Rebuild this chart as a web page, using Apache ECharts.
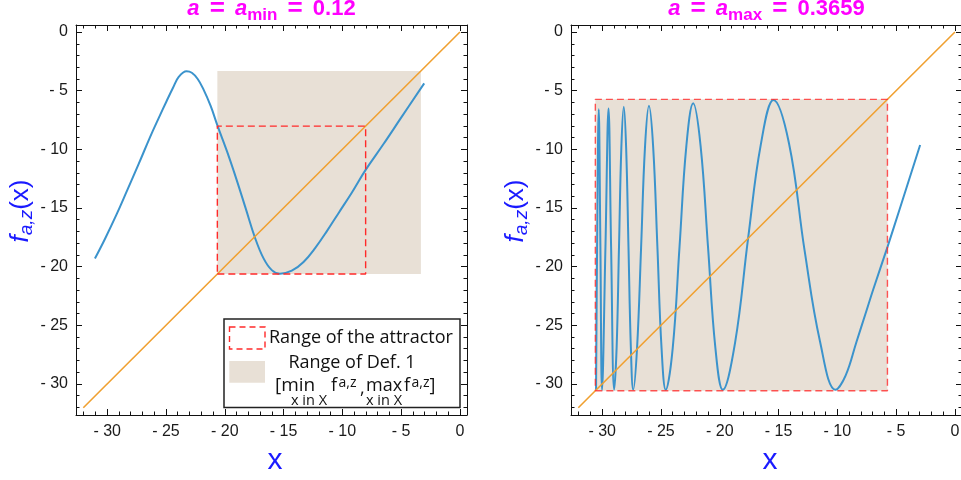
<!DOCTYPE html>
<html>
<head>
<meta charset="utf-8">
<script src="https://cdn.jsdelivr.net/npm/echarts@6/dist/echarts.min.js"></script>
<style>
  html, body { margin: 0; background: #fff; }
  #chart { width: 961px; height: 480px; }
</style>
</head>
<body>
<div id="chart"></div>
<script>
// values
const leftX = [-31.04, -30.19, -29.2, -28.3, -27.3, -26.37, -25.6, -24.95, -24.4, -23.9, -23.25, -22.8,
  -22.3, -21.83, -21.2, -20.61, -19.8, -18.99, -18.2, -17.44, -16.7, -16.0, -15.31, -14.3, -13.3,
  -12.3, -11.3, -10.3, -9.2, -8.02, -6.5, -5.0, -3.04];
const leftY = [-19.31, -17.64, -15.55, -13.5, -11.2, -9.0, -7.3, -5.9, -4.75, -3.8, -3.34, -3.47,
  -4.0, -4.85, -6.3, -8.0, -10.2, -12.6, -15.1, -17.5, -19.3, -20.3, -20.61, -20.35, -19.6,
  -18.4, -16.95, -15.4, -13.7, -11.75, -9.55, -7.3, -4.38];

const rightX = [-30.52, -30.43, -30.29, -30.15, -30.01, -29.72, -29.46, -29.24, -28.98, -28.77, -28.57,
  -28.37, -28.16, -27.96, -27.76, -27.56, -27.36, -27.03, -26.69, -26.36, -26.02, -25.66, -25.3, -24.95,
  -24.59, -24.0, -23.42, -22.84, -22.26, -21.63, -21.0, -20.37, -19.74, -18.7, -17.59, -16.51, -15.43,
  -14.11, -12.79, -11.47, -10.15, -9.3, -8.37, -7.6, -6.95, -5.72, -4.67, -2.96];
const rightY = [-30.5, -18.3, -6.59, -18.3, -30.5, -18.3, -6.51, -18.3, -30.5, -26.9, -18.4,
  -9.9, -6.37, -9.9, -18.4, -26.9, -30.5, -26.9, -18.4, -9.85, -6.29, -9.85, -18.4, -26.95,
  -30.5, -26.95, -18.3, -9.7, -6.08, -9.7, -18.3, -26.95, -30.5, -26.5, -17.6, -9.6, -5.8,
  -9.5, -18.6, -26.4, -30.5, -29.3, -26.4, -24.0, -21.95, -18.27, -15.0, -9.63];

const diagonal = [-32.03, 0];
const attractorLeft = [-20.63, -8.02];
const def1Left = [-20.63, -3.32];
const attractorRight = [-30.58, -5.74];
const def1Right = [-30.58, -5.74];

const majorTicks = [-30, -25, -20, -15, -10, -5, 0];
const minorTicks = Array.from({ length: 33 }, (_, i) => -32 + i);
const AX_MIN = -32.65, AX_MAX = 0.6;

const BLUE = '#3b93cc', ORANGE = '#f0a030', BEIGE = '#e8e0d6', RED = '#ff2a2a';
const FONT = 'Liberation Sans';

const fmt = v => (v === 0 ? '0' : '- ' + Math.abs(v));
const pairs = (xs, ys) => xs.map((x, i) => [x, ys[i]]);
const box = r => [[r[0], r[0]], [r[1], r[0]], [r[1], r[1]], [r[0], r[1]], [r[0], r[0]]];

function axes(g, dim) {
  const base = { type: 'value', gridIndex: g, min: AX_MIN, max: AX_MAX, splitLine: { show: false } };
  const line = { show: true, onZero: false, lineStyle: { color: '#111', width: 1 } };
  const noLine = { show: false, onZero: false };
  const major = { show: true, inside: true, length: 6, customValues: majorTicks, lineStyle: { color: '#111' } };
  const minor = { show: true, inside: true, length: 3.5, customValues: minorTicks, lineStyle: { color: '#111' } };
  const sides = dim === 'x' ? ['bottom', 'top'] : ['left', 'right'];
  return [
    Object.assign({}, base, {
      position: sides[0], axisLine: line, axisTick: major,
      axisLabel: { customValues: majorTicks, formatter: fmt, margin: dim === 'x' ? 9 : 8,
        fontSize: 16, fontFamily: FONT, color: '#1a1a1a' }
    }),
    Object.assign({}, base, { position: sides[0], axisLine: noLine, axisTick: minor, axisLabel: { show: false } }),
    Object.assign({}, base, { position: sides[1], axisLine: line, axisTick: major, axisLabel: { show: false } }),
    Object.assign({}, base, { position: sides[1], axisLine: noLine, axisTick: minor, axisLabel: { show: false } })
  ];
}

function rectSeries(ai, r, z) {
  return {
    type: 'custom', xAxisIndex: ai, yAxisIndex: ai, z: z, silent: true,
    data: [[r[0], r[0], r[1], r[1]]],
    renderItem: (params, api) => {
      const p0 = api.coord([api.value(0), api.value(3)]);
      const p1 = api.coord([api.value(2), api.value(1)]);
      return { type: 'rect', shape: { x: p0[0], y: p0[1], width: p1[0] - p0[0], height: p1[1] - p0[1] },
        style: { fill: BEIGE } };
    }
  };
}

function plotSeries(ai, xs, ys, attr, def1, redOpacity) {
  return [
    rectSeries(ai, def1, 1),
    { type: 'line', xAxisIndex: ai, yAxisIndex: ai, z: 3, data: pairs(xs, ys), smooth: 0.4,
      showSymbol: false, symbol: 'none', lineStyle: { color: BLUE, width: 2 }, silent: true },
    { type: 'line', xAxisIndex: ai, yAxisIndex: ai, z: 4, data: pairs(diagonal, diagonal),
      symbol: 'none', lineStyle: { color: ORANGE, width: 1.6 }, silent: true },
    { type: 'line', xAxisIndex: ai, yAxisIndex: ai, z: 5, data: box(attr),
      symbol: 'none', lineStyle: { color: RED, width: 1.4, type: [7, 4], opacity: redOpacity }, silent: true }
  ];
}

const titleRich = {
  i: { fontFamily: FONT, fontSize: 22, fontWeight: 'bold', fontStyle: 'italic', fill: '#ff00ff', lineHeight: 30 },
  t: { fontFamily: FONT, fontSize: 22, fontWeight: 'bold', fill: '#ff00ff', lineHeight: 30 },
  e: { fontFamily: FONT, fontSize: 26, fontWeight: 'bold', fill: '#ff00ff', lineHeight: 30, padding: [0, 4, 0, 4] },
  s: { fontFamily: FONT, fontSize: 17, fontWeight: 'bold', fill: '#ff00ff', lineHeight: 18, verticalAlign: 'bottom' }
};
const ylabRich = {
  f: { fontFamily: FONT, fontSize: 26, fontStyle: 'italic', fill: '#1a1aff', lineHeight: 30 },
  s: { fontFamily: FONT, fontSize: 19, fontStyle: 'italic', fill: '#1a1aff', lineHeight: 20, verticalAlign: 'bottom' },
  n: { fontFamily: FONT, fontSize: 26, fill: '#1a1aff', lineHeight: 30 }
};

function titleText(cx, sub, val) {
  return { type: 'text', x: cx, y: 9, z: 10,
    style: { text: '{i|a}{t| }{e|=}{t| }{i|a}{s|' + sub + '}{t| }{e|=}{t| ' + val + '}',
      rich: titleRich, align: 'center', verticalAlign: 'middle' } };
}
function yLabel(cx) {
  return { type: 'text', x: cx, y: 211, rotation: Math.PI / 2, z: 10,
    style: { text: '{f|f}{s|a,z}{n|(x)}', rich: ylabRich, align: 'center', verticalAlign: 'middle' } };
}
function xLabel(cx) {
  return { type: 'text', x: cx, y: 461, z: 10,
    style: { text: 'x', font: '30px "Liberation Sans"', fill: '#1a1aff', align: 'center', verticalAlign: 'middle' } };
}

const LF = '"Open Sans"';
const txt = (x, y, s, size, align) => ({ type: 'text', x: x, y: y,
  style: { text: s, font: size + 'px ' + LF, fill: '#111', align: align || 'left', verticalAlign: 'middle' } });

const legend = {
  type: 'group', z: 20, children: [
    { type: 'rect', shape: { x: 224, y: 319, width: 236, height: 88.5 },
      style: { fill: '#fff', stroke: '#222', lineWidth: 1.5 } },
    { type: 'rect', shape: { x: 229.5, y: 327, width: 35.5, height: 22 },
      style: { fill: 'none', stroke: RED, lineWidth: 1.4, lineDash: [6, 4] } },
    { type: 'rect', shape: { x: 229.3, y: 361, width: 35.7, height: 21.7 }, style: { fill: BEIGE } },
    txt(269, 338, 'Range of the attractor', 18),
    txt(352, 363, 'Range of Def. 1', 18, 'center'),
    txt(275, 386, '[min', 19),
    txt(309, 401, 'x in X', 14.5, 'center'),
    txt(331, 386, 'f', 18),
    txt(338.5, 383, 'a,z', 14),
    txt(360, 389, ',', 18),
    txt(366, 386, 'max', 18),
    txt(384, 401, 'x in X', 14.5, 'center'),
    txt(404, 386, 'f', 18),
    txt(411.5, 383, 'a,z', 14),
    txt(429.5, 386, ']', 18)
  ]
};

const chart = echarts.init(document.getElementById('chart'));
chart.setOption({
  animation: false,
  backgroundColor: '#fff',
  grid: [
    { left: 76, top: 25, width: 391, height: 390, outerBoundsMode: 'none' },
    { left: 571, top: 25, width: 391, height: 390, outerBoundsMode: 'none' }
  ],
  xAxis: axes(0, 'x').concat(axes(1, 'x')),
  yAxis: axes(0, 'y').concat(axes(1, 'y')),
  series: plotSeries(0, leftX, leftY, attractorLeft, def1Left, 1)
    .concat(plotSeries(4, rightX, rightY, attractorRight, def1Right, 0.8)),
  graphic: [
    titleText(271.5, 'min', '0.12'),
    titleText(766.5, 'max', '0.3659'),
    yLabel(21), yLabel(516),
    xLabel(275), xLabel(770),
    legend
  ]
});
</script>
</body>
</html>
